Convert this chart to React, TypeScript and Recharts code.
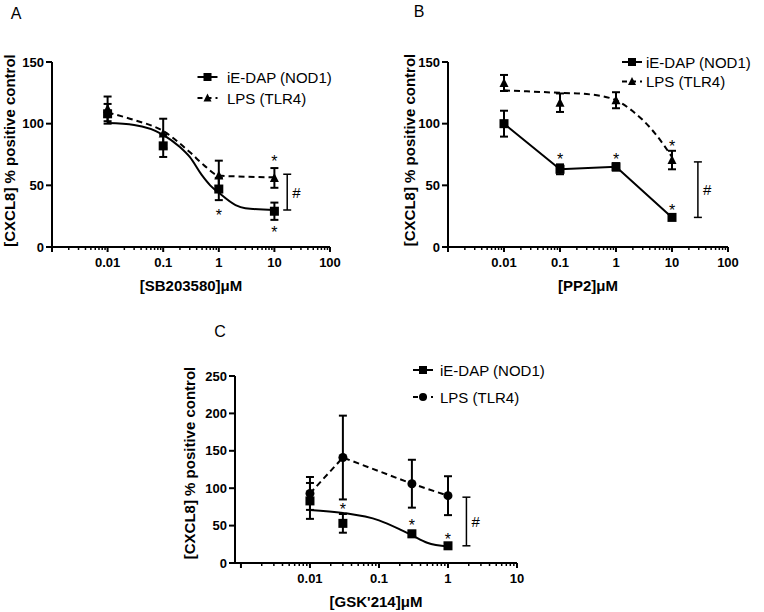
import React from 'react';
import { ComposedChart, Line, Scatter, XAxis, YAxis, ErrorBar } from 'recharts';

const FONT = '"Liberation Sans", Arial, Helvetica, sans-serif';

// ---------- shared ----------
const seriesNames = ['iE-DAP (NOD1)', 'LPS (TLR4)'];
const yTitle = '[CXCL8] % positive control';
const panelLetters = ['A', 'B', 'C'];

// ---------- Panel A : SB203580 ----------
const aTitle = '[SB203580]\u03bcM';
const aConc = [0.01, 0.1, 1, 10];
const aNod1Mean = [108, 82, 47, 29];
const aNod1Sem = [8, 9, 9, 7];
const aLpsMean = [112, 92, 58, 56];
const aLpsSem = [10, 12, 12, 8];
const aNod1FitX = [0.01, 0.03, 0.1, 0.2, 0.3, 0.5, 0.7, 1, 2, 3, 10];
const aNod1FitY = [100.5, 99, 91, 81, 73, 58, 50, 44, 34, 31.5, 30];
const aLpsFitX = [0.01, 0.03, 0.1, 0.3, 0.55, 1, 3, 10];
const aLpsFitY = [109, 103, 94, 77, 66, 58, 57, 56.5];
const aStarX = [10, 1, 10];
const aStarY = [72, 28, 14.5];
const aBracketX = 17;
const aBracketRange = [30, 59];
const aTickLabels = ['0.01', '0.1', '1', '10', '100'];
const aYTicks = [0, 50, 100, 150];

// ---------- Panel B : PP2 ----------
const bTitle = '[PP2]\u03bcM';
const bConc = [0.01, 0.1, 1, 10];
const bNod1Mean = [100, 63, 65, 24];
const bNod1Sem = [10.5, 4, 3, 1];
const bLpsMean = [133, 117, 119, 70.5];
const bLpsSem = [6.5, 7.5, 6.5, 7.5];
const bLpsFitX = [0.01, 0.1, 0.3, 1, 2, 3, 5, 10];
const bLpsFitY = [127, 125, 124, 119, 110, 103, 92, 73];
const bStarX = [0.1, 1, 10, 10];
const bStarY = [74, 74, 32.5, 84];
const bBracketX = 29;
const bBracketRange = [24, 69];
const bTickLabels = ['0.01', '0.1', '1', '10', '100'];
const bYTicks = [0, 50, 100, 150];

// ---------- Panel C : GSK'214 ----------
const cTitle = "[GSK'214]\u03bcM";
const cConc = [0.01, 0.03, 0.3, 1];
const cNod1Mean = [83, 53, 39, 23];
const cNod1Sem = [24, 12.5, 4, 1.5];
const cLpsMean = [93, 141, 106, 90];
const cLpsSem = [22, 56, 32, 26];
const cNod1FitX = [0.01, 0.03, 0.1, 0.2, 0.3, 0.5, 1];
const cNod1FitY = [71, 67, 57, 45, 37, 27, 22];
const cStarX = [0.03, 0.3, 1];
const cStarY = [76, 55, 36];
const cBracketX = 1.85;
const cBracketRange = [23, 88];
const cTickLabels = ['0.01', '0.1', '1', '10'];
const cYTicks = [0, 50, 100, 150, 200, 250];

// ---------- helpers ----------
const pts = (xs: number[], ys: number[], es?: number[]) =>
  xs.map((x, i) => ({ x, y: ys[i], err: es ? es[i] : 0 }));

const bracketPts = (x: number, r: number[]) => [
  { x, y: (r[0] + r[1]) / 2, err: (r[1] - r[0]) / 2 },
];

const decadeTicks = (decades: number[]) => {
  const out: number[] = [];
  decades.forEach((d, i) => {
    out.push(d);
    if (i < decades.length - 1) {
      for (let m = 2; m <= 9; m++) out.push(+(d * m).toPrecision(6));
    }
  });
  return out;
};

const aDecades = [0.001, 0.01, 0.1, 1, 10, 100];
const cDecades = [0.001, 0.01, 0.1, 1, 10];

const Square = (p: any) =>
  p.cx == null ? null : <rect x={p.cx - 4.5} y={p.cy - 4.5} width={9} height={9} fill="#000" stroke="none" />;
const Triangle = (p: any) =>
  p.cx == null ? null : (
    <polygon points={`${p.cx},${p.cy - 5} ${p.cx - 4.5},${p.cy + 4} ${p.cx + 4.5},${p.cy + 4}`} fill="#000" stroke="none" />
  );
const Circle = (p: any) => (p.cx == null ? null : <circle cx={p.cx} cy={p.cy} r={4.5} fill="#000" stroke="none" />);
const Star = (p: any) =>
  p.cx == null ? null : (
    <text x={p.cx} y={p.cy + 9} textAnchor="middle" fontSize={16} fontFamily={FONT} fill="#000" stroke="none">
      *
    </text>
  );
const Hash = (p: any) =>
  p.cx == null ? null : (
    <text x={p.cx + 5} y={p.cy} dominantBaseline="central" fontSize={15} fontFamily={FONT} fill="#000" stroke="none">
      #
    </text>
  );

const LogTick = (p: any) => {
  const v = p.payload?.value;
  const isMajor = p.majors.some((m: number) => Math.abs(Math.log10(v) - Math.log10(m)) < 1e-6);
  const idx = p.labelValues.findIndex((m: number) => Math.abs(Math.log10(v) - Math.log10(m)) < 1e-6);
  const label = idx >= 0 ? p.labels[idx] : null;
  return (
    <g>
      <line x1={p.x} x2={p.x} y1={p.y} y2={p.y + (isMajor ? 5 : 3)} stroke="#000" strokeWidth={isMajor ? 2 : 1.5} />
      {label && (
        <text x={p.x} y={p.y + 15} textAnchor="middle" dominantBaseline="central" fontSize={13} fontWeight="bold" fontFamily={FONT} fill="#000" stroke="none">
          {label}
        </text>
      )}
    </g>
  );
};

const XTitle = (p: any) => {
  const vb = p.viewBox || {};
  const cx = vb.x + vb.width / 2;
  const cy = vb.y + 38;
  return (
    <text x={cx} y={cy} textAnchor="middle" dominantBaseline="central" fontSize={15} fontWeight="bold" fontFamily={FONT} fill="#000" stroke="none">
      {p.text}
    </text>
  );
};

const YTitle = (p: any) => {
  const vb = p.viewBox || {};
  const cx = vb.x + p.dxx;
  const cy = vb.y + vb.height / 2 + p.dyy;
  return (
    <text x={cx} y={cy} transform={`rotate(-90 ${cx} ${cy})`} textAnchor="middle" dominantBaseline="central" fontSize={15} fontWeight="bold" fontFamily={FONT} fill="#000" stroke="none">
      {p.text}
    </text>
  );
};

type Curve = { data: { x: number; y: number }[]; dashed: boolean; type: 'monotone' | 'linear' };

function Panel(props: any) {
  const {
    left, top, width, height, margin, yAxisWidth, xAxisHeight, xDomain, decades, tickLabels,
    yDomain, yTicks, xTitle, yDx, yDy, curves, nod1, lps, lpsShape, stars, bracket,
  } = props;
  const labelValues = decades.slice(1);
  return (
    <div style={{ position: 'absolute', left, top }}>
      <ComposedChart width={width} height={height} margin={margin}>
        <XAxis
          dataKey="x"
          type="number"
          scale="log"
          domain={xDomain}
          allowDataOverflow
          ticks={decadeTicks(decades)}
          interval={0}
          tickSize={0}
          tickMargin={0}
          tickLine={false}
          stroke="#000"
          strokeWidth={2}
          height={xAxisHeight}
          tick={(p: any) => <LogTick {...p} majors={decades} labelValues={labelValues} labels={tickLabels} />}
          label={<XTitle text={xTitle} />}
        />
        <YAxis
          dataKey="y"
          type="number"
          domain={yDomain}
          ticks={yTicks}
          interval={0}
          allowDataOverflow
          width={yAxisWidth}
          stroke="#000"
          strokeWidth={2}
          tickSize={6}
          tickMargin={2}
          tick={{ fill: '#000', fontSize: 13, fontWeight: 'bold', fontFamily: FONT }}
          label={<YTitle text={yTitle} dxx={yDx} dyy={yDy} />}
        />
        {curves.map((c: Curve, i: number) => (
          <Line
            key={`c${i}`}
            data={c.data}
            dataKey="y"
            type={c.type}
            stroke="#000"
            strokeWidth={2}
            strokeDasharray={c.dashed ? '6 4' : undefined}
            dot={false}
            activeDot={false}
            isAnimationActive={false}
          />
        ))}
        <Scatter data={lps} dataKey="y" shape={lpsShape} fill="#000" isAnimationActive={false}>
          <ErrorBar dataKey="err" direction="y" width={4} stroke="#000" strokeWidth={2} />
        </Scatter>
        <Scatter data={nod1} dataKey="y" shape={Square} fill="#000" isAnimationActive={false}>
          <ErrorBar dataKey="err" direction="y" width={4} stroke="#000" strokeWidth={2} />
        </Scatter>
        <Scatter data={stars} dataKey="y" shape={Star} fill="#000" isAnimationActive={false} />
        <Scatter data={bracket} dataKey="y" shape={Hash} fill="#000" isAnimationActive={false}>
          <ErrorBar dataKey="err" direction="y" width={4} stroke="#000" strokeWidth={1.5} />
        </Scatter>
      </ComposedChart>
    </div>
  );
}

const LegendBlock = ({ x, y, gap, textX, markers }: any) => (
  <g>
    {seriesNames.map((n, i) => {
      const cy = y + i * gap;
      const M = markers[i];
      return (
        <g key={n}>
          <line x1={x - 10} x2={x + 10} y1={cy} y2={cy} stroke="#000" strokeWidth={2} strokeDasharray={i === 1 ? '5 4' : undefined} />
          <M cx={x} cy={cy} />
          <text x={textX} y={cy} dominantBaseline="central" fontSize={15} fontFamily={FONT} fill="#000">
            {n}
          </text>
        </g>
      );
    })}
  </g>
);

const LegSquare = (p: any) => <rect x={p.cx - 4} y={p.cy - 4} width={8} height={8} fill="#000" />;
const LegTriangle = (p: any) => (
  <polygon points={`${p.cx},${p.cy - 4.5} ${p.cx - 4},${p.cy + 3.5} ${p.cx + 4},${p.cy + 3.5}`} fill="#000" />
);
const LegCircle = (p: any) => <circle cx={p.cx} cy={p.cy} r={4} fill="#000" />;

export default function App() {
  return (
    <div style={{ position: 'absolute', left: 0, top: 0, width: 764, height: 612, background: '#fff', fontFamily: FONT }}>
      <Panel
        left={0}
        top={0}
        width={380}
        height={300}
        margin={{ top: 62, right: 50, bottom: 0, left: 0 }}
        yAxisWidth={52}
        xAxisHeight={53}
        xDomain={[0.001, 100]}
        decades={aDecades}
        tickLabels={aTickLabels}
        yDomain={[0, 150]}
        yTicks={aYTicks}
        xTitle={aTitle}
        yDx={9}
        yDy={-4}
        curves={[
          { data: pts(aNod1FitX, aNod1FitY), dashed: false, type: 'monotone' },
          { data: pts(aLpsFitX, aLpsFitY), dashed: true, type: 'monotone' },
        ]}
        nod1={pts(aConc, aNod1Mean, aNod1Sem)}
        lps={pts(aConc, aLpsMean, aLpsSem)}
        lpsShape={Triangle}
        stars={pts(aStarX, aStarY)}
        bracket={bracketPts(aBracketX, aBracketRange)}
      />
      <Panel
        left={380}
        top={0}
        width={384}
        height={300}
        margin={{ top: 62, right: 36, bottom: 0, left: 0 }}
        yAxisWidth={68}
        xAxisHeight={53}
        xDomain={[0.001, 100]}
        decades={aDecades}
        tickLabels={bTickLabels}
        yDomain={[0, 150]}
        yTicks={bYTicks}
        xTitle={bTitle}
        yDx={29}
        yDy={-4.5}
        curves={[
          { data: pts(bConc, bNod1Mean), dashed: false, type: 'linear' },
          { data: pts(bLpsFitX, bLpsFitY), dashed: true, type: 'monotone' },
        ]}
        nod1={pts(bConc, bNod1Mean, bNod1Sem)}
        lps={pts(bConc, bLpsMean, bLpsSem)}
        lpsShape={Triangle}
        stars={pts(bStarX, bStarY)}
        bracket={bracketPts(bBracketX, bBracketRange)}
      />
      <Panel
        left={160}
        top={300}
        width={400}
        height={312}
        margin={{ top: 76, right: 43, bottom: 0, left: 0 }}
        yAxisWidth={75}
        xAxisHeight={49}
        xDomain={[0.00082, 10]}
        decades={cDecades}
        tickLabels={cTickLabels}
        yDomain={[0, 250]}
        yTicks={cYTicks}
        xTitle={cTitle}
        yDx={29}
        yDy={-6.5}
        curves={[
          { data: pts(cNod1FitX, cNod1FitY), dashed: false, type: 'monotone' },
          { data: pts(cConc, cLpsMean), dashed: true, type: 'linear' },
        ]}
        nod1={pts(cConc, cNod1Mean, cNod1Sem)}
        lps={pts(cConc, cLpsMean, cLpsSem)}
        lpsShape={Circle}
        stars={pts(cStarX, cStarY)}
        bracket={bracketPts(cBracketX, cBracketRange)}
      />
      <svg width={764} height={612} style={{ position: 'absolute', left: 0, top: 0, pointerEvents: 'none' }}>
        <text x={16} y={13} textAnchor="middle" dominantBaseline="central" fontSize={16} fontFamily={FONT} fill="#000">{panelLetters[0]}</text>
        <text x={419} y={11} textAnchor="middle" dominantBaseline="central" fontSize={16} fontFamily={FONT} fill="#000">{panelLetters[1]}</text>
        <text x={220} y={331} textAnchor="middle" dominantBaseline="central" fontSize={16} fontFamily={FONT} fill="#000">{panelLetters[2]}</text>
        <LegendBlock x={207.5} y={77} gap={21} textX={227} markers={[LegSquare, LegTriangle]} />
        <LegendBlock x={632} y={62} gap={19.5} textX={646} markers={[LegSquare, LegTriangle]} />
        <LegendBlock x={423} y={370} gap={27} textX={440} markers={[LegSquare, LegCircle]} />
      </svg>
    </div>
  );
}
